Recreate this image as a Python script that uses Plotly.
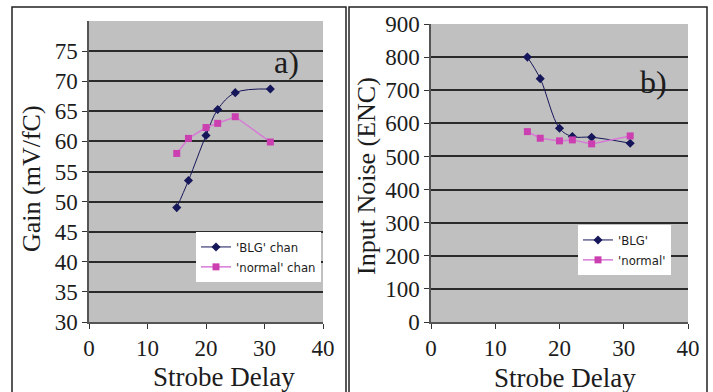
import plotly.graph_objects as go

# ---- data ----
delay = [15, 17, 20, 22, 25, 31]
gain_blg = [49.0, 53.5, 61.0, 65.3, 68.1, 68.7]
gain_normal = [58.0, 60.5, 62.3, 63.0, 64.1, 59.9]
noise_blg = [800, 735, 585, 560, 558, 540]
noise_normal = [575, 555, 547, 550, 538, 562]

gain_ticks = [30, 35, 40, 45, 50, 55, 60, 65, 70, 75]
noise_ticks = [0, 100, 200, 300, 400, 500, 600, 700, 800, 900]
x_ticks = [0, 10, 20, 30, 40]

W, H = 713, 392
BLG = "#16165a"
PINK_M = "#cc3fb0"
PINK_L = "#d77ad6"
GRAY = "#c0c0c0"
SERIF = "Liberation Serif, Times New Roman, serif"
NARROW = "Liberation Sans Narrow, Arial Narrow, DejaVu Sans Condensed, sans-serif"
TXT = "#1c1c1c"

def px(x):
    return x / W

def py(y):
    return 1 - y / H

fig = go.Figure()

fig.add_trace(go.Scatter(x=delay, y=gain_blg, name="'BLG' chan", mode="lines+markers",
                         line=dict(color=BLG, width=1, shape="spline"),
                         marker=dict(symbol="diamond", size=7, color=BLG),
                         xaxis="x", yaxis="y", legend="legend"))
fig.add_trace(go.Scatter(x=delay, y=gain_normal, name="'normal' chan", mode="lines+markers",
                         line=dict(color=PINK_L, width=1.5),
                         marker=dict(symbol="square", size=7, color=PINK_M),
                         xaxis="x", yaxis="y", legend="legend"))
fig.add_trace(go.Scatter(x=delay, y=noise_blg, name="'BLG'", mode="lines+markers",
                         line=dict(color=BLG, width=1, shape="spline"),
                         marker=dict(symbol="diamond", size=7, color=BLG),
                         xaxis="x2", yaxis="y2", legend="legend2"))
fig.add_trace(go.Scatter(x=delay, y=noise_normal, name="'normal'", mode="lines+markers",
                         line=dict(color=PINK_L, width=1.5),
                         marker=dict(symbol="square", size=7, color=PINK_M),
                         xaxis="x2", yaxis="y2", legend="legend2"))

axis_common = dict(showline=True, linecolor="#555555", linewidth=1.5, ticks="outside",
                   ticklen=5, tickcolor="#333333", zeroline=False, automargin=False,
                   tickfont=dict(family=SERIF, size=23, color=TXT))

fig.update_layout(
    width=W, height=H,
    margin=dict(l=0, r=0, t=0, b=0, autoexpand=False),
    paper_bgcolor="white",
    plot_bgcolor=GRAY,
    showlegend=True,
    xaxis=dict(domain=[px(89), px(323)], range=[0, 40], tickvals=x_ticks,
               showgrid=False, anchor="y", **axis_common),
    yaxis=dict(domain=[py(322), py(21)], range=[30, 80], tickvals=gain_ticks,
               showgrid=True, gridcolor="#2a2a2a", gridwidth=2, anchor="x", **axis_common),
    xaxis2=dict(domain=[px(431), px(688)], range=[0, 40], tickvals=x_ticks,
                showgrid=False, anchor="y2", **axis_common),
    yaxis2=dict(domain=[py(322), py(24)], range=[0, 900], tickvals=noise_ticks,
                showgrid=True, gridcolor="#2a2a2a", gridwidth=2, anchor="x2", **axis_common),
    legend=dict(x=px(321), y=py(232), xanchor="right", yanchor="top",
                bgcolor="white", borderwidth=0,
                font=dict(family=NARROW, size=13, color=TXT), tracegroupgap=0),
    legend2=dict(x=px(671), y=py(225), xanchor="right", yanchor="top",
                 bgcolor="white", borderwidth=0,
                 font=dict(family=NARROW, size=13, color=TXT), tracegroupgap=0),
)

annotations = [
    dict(text="Strobe Delay", x=px(224), y=py(377), font=dict(size=27)),
    dict(text="Strobe Delay", x=px(565), y=py(378), font=dict(size=27)),
    dict(text="Gain (mV/fC)", x=px(31), y=py(179), textangle=-90, font=dict(size=26)),
    dict(text="Input Noise (ENC)", x=px(366), y=py(176), textangle=-90, font=dict(size=26)),
    dict(text="a)", x=px(286), y=py(62), font=dict(size=32)),
    dict(text="b)", x=px(653), y=py(82), font=dict(size=32)),
]
for a in annotations:
    a.update(xref="paper", yref="paper", showarrow=False, xanchor="center", yanchor="middle")
    a["font"].update(family=SERIF, color=TXT)
fig.update_layout(annotations=annotations)

fig.update_layout(shapes=[
    dict(type="rect", xref="paper", yref="paper", x0=px(12), x1=px(346), y0=-0.1, y1=py(7),
         line=dict(color="#222222", width=1.5), layer="below"),
    dict(type="rect", xref="paper", yref="paper", x0=px(349), x1=px(707), y0=-0.1, y1=py(7),
         line=dict(color="#222222", width=1.5), layer="below"),
])

fig.write_html("out.html")
